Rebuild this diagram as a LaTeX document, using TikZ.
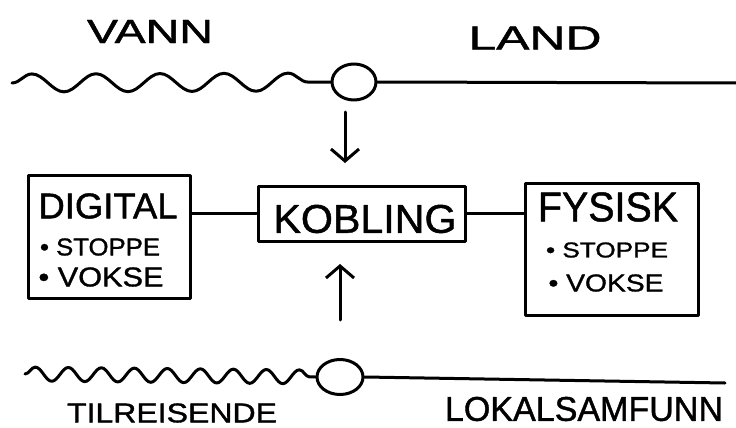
\documentclass[tikz,border=0pt]{standalone}
\usepackage{fontspec}
\setmainfont{Liberation Sans}[FakeBold=1.2]
\usetikzlibrary{arrows.meta,decorations.pathmorphing,shapes.geometric}
\newcommand{\fitbox}[3]{\resizebox{#1pt}{#2pt}{#3}}
\begin{document}
\begin{tikzpicture}[x=1pt,y=-1pt, line width=3pt, line cap=round, line join=round,
  lbl/.style={inner sep=0pt, outer sep=0pt, anchor=center},
  box/.style={draw, rectangle, inner sep=0pt, line width=3pt},
  knot/.style={draw, ellipse, inner sep=0pt, line width=3pt, minimum width=44pt, minimum height=36pt},
  arr/.style={-{Straight Barb[length=12pt,width=28pt]}},
  bigwave/.style={decorate, decoration={snake, segment length=64pt, amplitude=9pt}},
  smallwave/.style={decorate, decoration={snake, segment length=33pt, amplitude=7pt}}]
\useasboundingbox (0,0) rectangle (736,428);

% top: VANN / LAND
\node[lbl] (vann) at (150,31.5) {\fitbox{126}{23}{VANN}};
\node[lbl] (land) at (535,38) {\fitbox{133}{23}{LAND}};
\coordinate (w1) at (12,83);
\node[knot] (c1) at (354,82) {};
\coordinate (e1) at (736,83);
\draw[bigwave] (w1) -- (c1.west);
\draw (c1.east) -- (e1);

% boxes
\node[box, minimum width=162pt, minimum height=123pt] (digital) at (109,236.5) {};
\node[box, minimum width=207pt, minimum height=55pt] (kobling) at (361.5,213.5) {};
\node[box, minimum width=173pt, minimum height=132pt] (fysisk) at (611.5,249) {};

\node[lbl] (tdig) at (108,206) {\fitbox{139}{25}{DIGITAL}};
\node[lbl] (tdig1) at (100,247) {\fitbox{120}{17}{• STOPPE}};
\node[lbl] (tdig2) at (101,277) {\fitbox{125}{19}{• VOKSE}};
\node[lbl] (tkob) at (365,219) {\fitbox{183}{28}{KOBLING}};
\node[lbl] (tfys) at (608,207) {\fitbox{140}{29}{FYSISK}};
\node[lbl] (tfys1) at (607,250) {\fitbox{122}{15}{• STOPPE}};
\node[lbl] (tfys2) at (606,283) {\fitbox{115}{17}{• VOKSE}};

% connectors between boxes
\draw (kobling.west) -- (kobling.west -| digital.east);
\draw (kobling.east) -- (kobling.east -| fysisk.west);

% arrows
\coordinate (a1s) at (345,112);
\coordinate (a1e) at (345,163);
\draw[arr] (a1s) -- (a1e);
\coordinate (a2s) at (340,320);
\coordinate (a2e) at (340,264);
\draw[arr] (a2s) -- (a2e);

% bottom: TILREISENDE / LOKALSAMFUNN
\coordinate (w2) at (25,374);
\node[knot, minimum width=46pt, minimum height=35pt] (c2) at (340,377) {};
\coordinate (e2) at (725,383);
\draw[smallwave] (w2) -- (c2.west);
\draw (c2.east) -- (e2);
\node[lbl] (tilr) at (172,413) {\fitbox{210}{19}{TILREISENDE}};
\node[lbl] (lok) at (584,409) {\fitbox{278}{24}{LOKALSAMFUNN}};
\end{tikzpicture}
\end{document}
